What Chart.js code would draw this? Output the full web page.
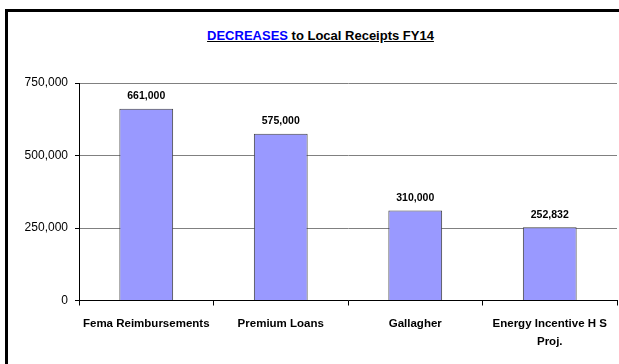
<!DOCTYPE html>
<html>
<head>
<meta charset="utf-8">
<script src="https://cdn.jsdelivr.net/npm/chart.js@4.4.0/dist/chart.umd.min.js"></script>
<style>
  body { margin: 0; background: #fff; }
  #wrap { position: relative; width: 619px; height: 364px; overflow: hidden; }
  #frame { position: absolute; left: 5px; top: 9px; width: 700px; height: 400px;
           border-left: 3px solid #000; border-top: 3px solid #000; }
  #title { position: absolute; left: 0; top: 28px; width: 641px; text-align: center;
           font: bold 13px "Liberation Sans", Arial, sans-serif; }
  #title span.t { text-decoration: underline; color: #000; }
  #title span.hl { color: #0000ff; }
  canvas { position: absolute; left: 0; top: 0; }
</style>
</head>
<body>
<div id="wrap">
  <div id="frame"></div>
  <div id="title"><span class="t"><span class="hl">DECREASES</span> to Local Receipts FY14</span></div>
  <canvas id="decreasesChart" width="619" height="364"></canvas>
</div>
<script>
// values
const categories = ['Fema Reimbursements', 'Premium Loans', 'Gallagher', ['Energy Incentive H S', 'Proj.']];
const decreases = [661000, 575000, 310000, 252832];
const yTicks = [0, 250000, 500000, 750000];

const fmt = (v) => v.toLocaleString('en-US');

// draws the value above each bar
const barValueLabels = {
  id: 'barValueLabels',
  afterDatasetsDraw(chart) {
    const { ctx } = chart;
    const meta = chart.getDatasetMeta(0);
    ctx.save();
    ctx.font = 'bold 10.5px "Liberation Sans", Arial, sans-serif';
    ctx.fillStyle = '#000';
    ctx.textAlign = 'center';
    ctx.textBaseline = 'bottom';
    meta.data.forEach((bar, i) => {
      ctx.fillText(fmt(decreases[i]), bar.x, bar.y - 7);
    });
    ctx.restore();
  },
};

new Chart(document.getElementById('decreasesChart'), {
  type: 'bar',
  data: {
    labels: categories,
    datasets: [
      {
        data: decreases,
        backgroundColor: '#9999ff',
        borderColor: '#404040',
        borderWidth: 1,
        categoryPercentage: 1,
        barPercentage: 0.4,
      },
    ],
  },
  options: {
    responsive: false,
    animation: false,
    layout: { padding: { left: 0, right: 2, top: 83, bottom: 0 } },
    plugins: {
      legend: { display: false },
      tooltip: { enabled: false },
      title: { display: false },
    },
    scales: {
      x: {
        offset: true,
        grid: {
          drawOnChartArea: true,
          color: (c) => (c.index === categories.length ? '#808080' : 'rgba(0,0,0,0)'),
          tickColor: '#000',
          tickLength: 5,
        },
        border: { display: true, color: '#000' },
        ticks: {
          color: '#000',
          font: { family: '"Liberation Sans", Arial, sans-serif', size: 11.5, weight: 'bold', lineHeight: 1.5 },
          padding: 10,
          maxRotation: 0,
          autoSkip: false,
        },
        afterFit: (scale) => { scale.height = 63.5; },
      },
      y: {
        min: 0,
        max: 750000,
        afterBuildTicks: (scale) => { scale.ticks = yTicks.map((v) => ({ value: v })); },
        grid: { color: '#808080', tickColor: '#000', tickLength: 4 },
        border: { display: true, color: '#000' },
        ticks: {
          color: '#000',
          font: { family: '"Liberation Sans", Arial, sans-serif', size: 12 },
          padding: 7,
          callback: (v) => fmt(v),
        },
        afterFit: (scale) => { scale.width = 79; },
      },
    },
  },
  plugins: [barValueLabels],
});
</script>
</body>
</html>
